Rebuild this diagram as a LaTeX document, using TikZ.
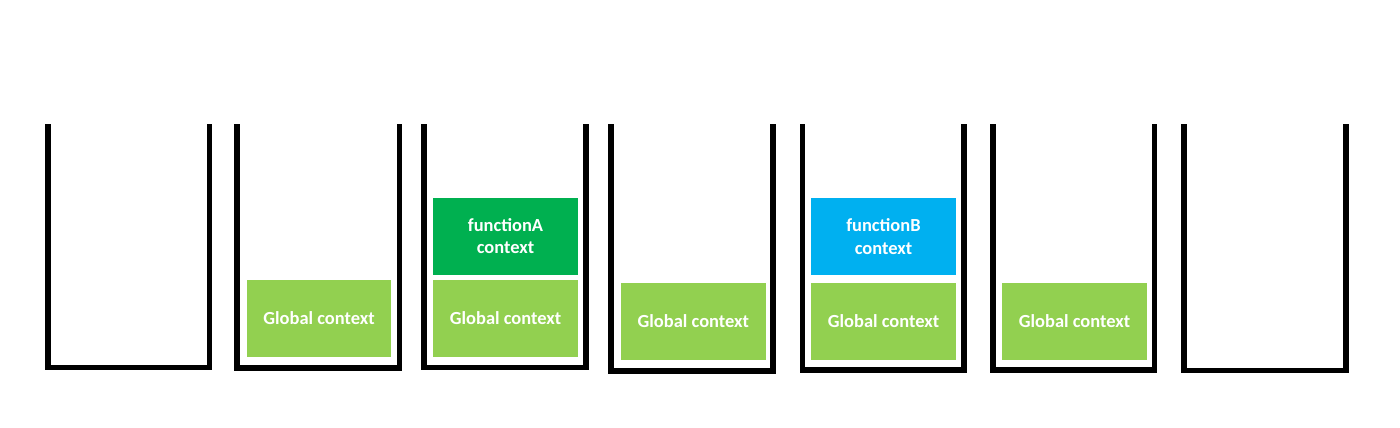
\documentclass[tikz,border=0pt]{standalone}
\usepackage{fontspec}
\setmainfont{Carlito}
\usepackage{xcolor}
\usetikzlibrary{positioning}

\definecolor{globalgreen}{HTML}{92D050}
\definecolor{funcagreen}{HTML}{00B050}
\definecolor{funcbblue}{HTML}{00B0F0}

\begin{document}
\begin{tikzpicture}[x=0.02cm, y=-0.02cm,
    cup/.style={draw=black, line width=3.4pt, line join=miter},
    ctx/.style={rectangle, minimum width=2.9cm, minimum height=1.54cm, inner sep=0pt,
                text=white, align=center, font=\fontsize{10.5}{13}\selectfont\bfseries}]
    \useasboundingbox (0,0) rectangle (1400,427);

    % pilhas (da esquerda para a direita)
    \draw[cup] (48,124)    -- (48,367.5)    -- (209.5,367.5) -- (209.5,124);
    \draw[cup] (237,124)   -- (237,368)     -- (399.5,368)   -- (399.5,124);
    \draw[cup] (424,124)   -- (424,367.5)   -- (586,367.5)   -- (586,124);
    \draw[cup] (611.3,124) -- (611.3,370.7) -- (773,370.7)   -- (773,124);
    \draw[cup] (802.5,124) -- (802.5,370)   -- (963.7,370)   -- (963.7,124);
    \draw[cup] (993,124)   -- (993,370)     -- (1154.5,370)  -- (1154.5,124);
    \draw[cup] (1183.7,124) -- (1183.7,370.5) -- (1346,370.5) -- (1346,124);

    % contextos de execução
    \node[ctx, fill=globalgreen] (g2) at (319,318.5) {Global context};

    \node[ctx, fill=globalgreen] (g3) at (505.5,318.5) {Global context};
    \node[ctx, fill=funcagreen] (fa) at (505.5,236) {functionA\\context};

    \node[ctx, fill=globalgreen] (g4) at (693.3,321.3) {Global context};

    \node[ctx, fill=globalgreen] (g5) at (883.5,321.5) {Global context};
    \node[ctx, fill=funcbblue] (fb) at (883.5,236.5) {functionB\\context};

    \node[ctx, fill=globalgreen] (g6) at (1074.5,321.5) {Global context};
\end{tikzpicture}
\end{document}
